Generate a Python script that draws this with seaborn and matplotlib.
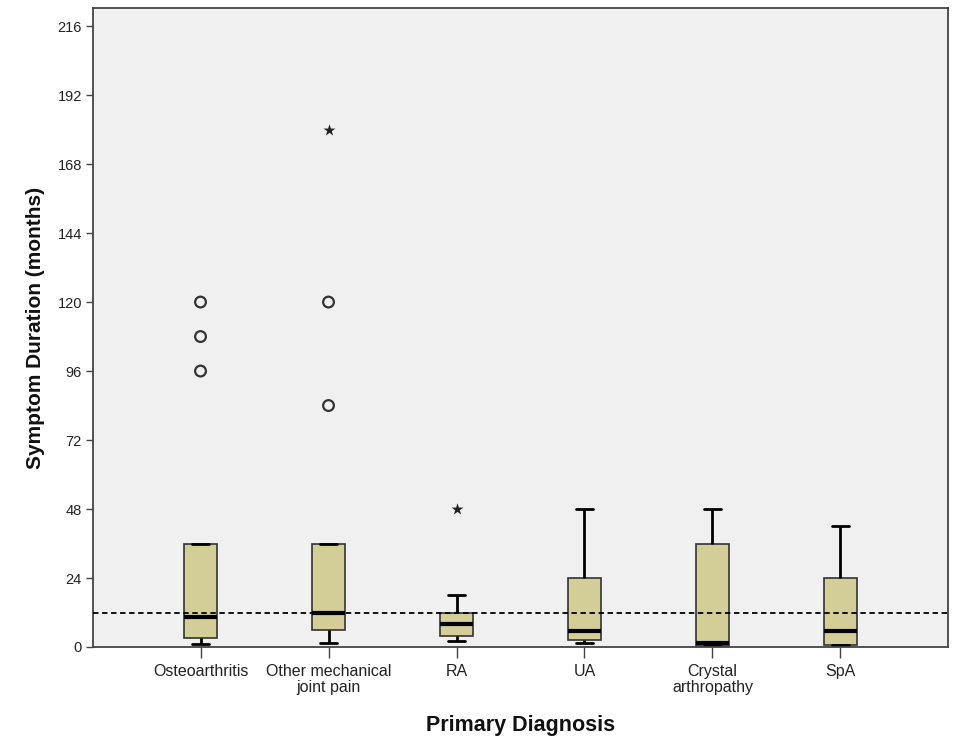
import numpy as np
import pandas as pd
import matplotlib
matplotlib.use("Agg")
import matplotlib.pyplot as plt
import seaborn as sns

# ---- data ----
categories = ["Osteoarthritis", "Other mechanical\njoint pain", "RA", "UA",
              "Crystal\narthropathy", "SpA"]
whisker_low = [1, 1.5, 2, 1.5, 0.5, 0.8]
q1 = [3, 6, 4, 2.3, 0.5, 0.8]
median = [10.5, 12, 8, 5.5, 1.5, 5.5]
q3 = [36, 36, 12, 24, 36, 24]
whisker_high = [36, 36, 18, 48, 48, 42]

outlier_cat = ["Osteoarthritis", "Osteoarthritis", "Osteoarthritis",
               "Other mechanical\njoint pain", "Other mechanical\njoint pain"]
outlier_val = [96, 108, 120, 84, 120]
extreme_cat = ["Other mechanical\njoint pain", "RA"]
extreme_val = [180, 48]

reference_line = 12
y_ticks = list(range(0, 217, 24))

# ---- build long table of the five summary values per group ----
rows = []
for i, c in enumerate(categories):
    for v in (whisker_low[i], q1[i], median[i], q3[i], whisker_high[i]):
        rows.append({"diag": c, "months": v})
df = pd.DataFrame(rows)

sns.set_theme(style="white")
plt.rcParams["font.family"] = ["Liberation Sans", "DejaVu Sans"]

fig = plt.figure(figsize=(9.55, 7.37), dpi=100)
ax = fig.add_axes([93 / 955, 1 - 647 / 737, (948 - 93) / 955, (647 - 8) / 737])
ax.set_facecolor("#f0f0f0")

sns.boxplot(data=df, x="diag", y="months", order=categories, ax=ax,
            whis=(0, 100), width=0.26, color="#d3ce97", saturation=1,
            showfliers=False, linecolor="#333333", linewidth=1.2,
            medianprops=dict(color="black", linewidth=3),
            whiskerprops=dict(color="black", linewidth=2),
            capprops=dict(color="black", linewidth=2))

pos = {c: i for i, c in enumerate(categories)}
ax.scatter([pos[c] for c in outlier_cat], outlier_val, s=60, marker="o",
           facecolors="none", edgecolors="#333333", linewidths=1.6, zorder=5)
ax.scatter([pos[c] for c in extreme_cat], extreme_val, s=80, marker="*",
           color="#222222", linewidths=0, zorder=5)

ax.axhline(reference_line, color="black", linestyle=(0, (3, 2)), linewidth=1.3, zorder=4)

ax.set_xlim(-0.84, 5.84)
ax.set_ylim(0, 222.3)
ax.set_yticks(y_ticks)
ax.set_yticklabels([str(t) for t in y_ticks])
ax.tick_params(axis="both", which="both", direction="out", width=1,
               color="#444444", labelcolor="#222222", pad=3,
               left=True, bottom=True)
ax.tick_params(axis="y", length=5, labelsize=10.5)
ax.tick_params(axis="x", length=8, labelsize=11.5, pad=4)
ax.set_xticks(range(len(categories)))
ax.set_xticklabels(categories, linespacing=1.15)

for s in ax.spines.values():
    s.set_visible(True)
    s.set_color("#444444")
    s.set_linewidth(1.3)

ax.set_xlabel("Primary Diagnosis", fontsize=15.5, fontweight="bold", labelpad=14, color="#111111")
ax.set_ylabel("Symptom Duration (months)", fontsize=15, fontweight="bold", labelpad=9, color="#111111")

fig.savefig("out.png", dpi=100, facecolor="white")
